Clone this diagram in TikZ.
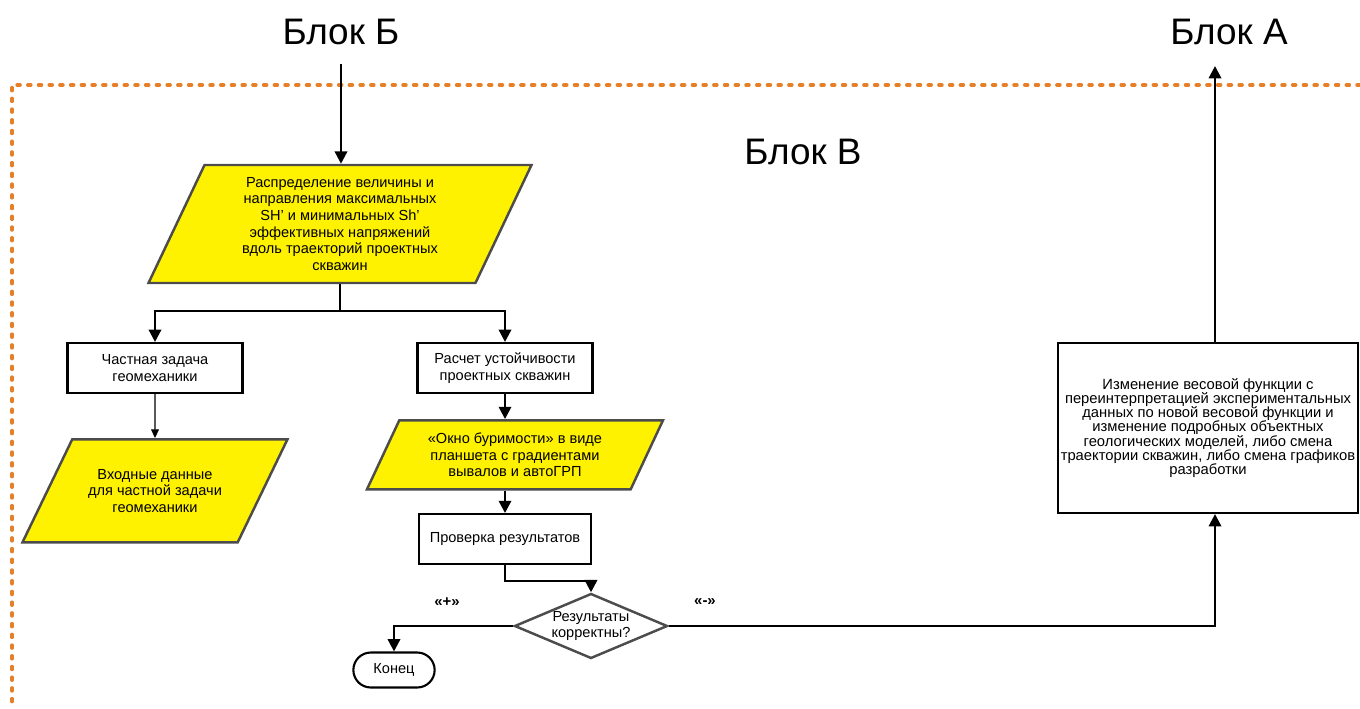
\documentclass[tikz,border=0pt]{standalone}
\usepackage{fontspec}
\setmainfont{Liberation Sans}
\usetikzlibrary{positioning,shapes.geometric,shapes.misc,arrows.meta}
\definecolor{frameorange}{RGB}{230,128,40}
\def\dx{1cm}
\def\dy{0.5cm}
\tikzstyle{process}=[draw,line width=1.2pt,minimum width=3.5cm,minimum height=1cm,align=center,font=\fontsize{8.3}{9.5}\selectfont]
\tikzstyle{data}=[draw=black!70,fill=yellow,trapezium,trapezium stretches body,align=center,font=\fontsize{8.3}{9.5}\selectfont]
\tikzstyle{decision}=[draw=black!70,diamond,aspect=2.35,inner sep=0pt,minimum width=3.06cm,minimum height=1.3cm,align=center,font=\fontsize{8.3}{9.5}\selectfont]
\tikzstyle{terminal}=[draw,line width=1.2pt,rounded rectangle,minimum width=1.86cm,minimum height=0.7cm,font=\fontsize{8.3}{9.5}\selectfont]
\tikzstyle{title}=[font=\fontsize{21}{24}\selectfont]
\tikzstyle{sign}=[font=\bfseries\fontsize{8.5}{9}\selectfont]
\newcommand{\newBlock}[4]{\node[#3](#1)[#4]{#2};}
\newcommand{\newFlow}[3]{\draw[->,#3] (#1) -- (#2);}

\begin{document}
\begin{tikzpicture}[node distance=\dy and \dx,
    >={Triangle[length=7pt,width=7pt]},line width=1.4pt
    ]
    \useasboundingbox (0,0) rectangle (27.2,14.16);
    % frame of block V
    \draw[frameorange,line width=2pt,line cap=round,dash pattern=on 1.7pt off 4.4pt] (27.2,12.46) -| (0.24,0);
    \newBlock{blockB}{Блок Б}{title}{at={(6.82,13.52)}}
    \newBlock{blockA}{Блок А}{title}{at={(24.58,13.52)}}
    \newBlock{blockV}{Блок В}{title}{at={(16.06,11.12)}}
    \newBlock{distr}{Распределение величины и\\направления максимальных\\SH’ и минимальных Sh’\\эффективных напряжений\\вдоль траекторий проектных\\скважин}{data,trapezium left angle=62,trapezium right angle=118,minimum width=7.66cm,minimum height=2.36cm}{at={(6.80,9.68)}}
    \newBlock{geo}{Частная задача\\геомеханики}{process}{at={(3.10,6.80)}}
    \newBlock{input}{Входные данные\\для частной задачи\\геомеханики}{data,trapezium left angle=48,trapezium right angle=132,minimum width=5.3cm,minimum height=2.06cm}{below=0.88cm of geo}
    \newBlock{calc}{Расчет устойчивости\\проектных скважин}{process}{at={(10.10,6.80)}}
    \newBlock{window}{«Окно буримости» в виде\\планшета с градиентами\\вывалов и автоГРП}{data,trapezium left angle=60,trapezium right angle=120,minimum width=5.92cm,minimum height=1.38cm}{below=of calc,xshift=0.2cm}
    \newBlock{check}{Проверка результатов}{process,minimum width=3.44cm}{below=2.38cm of calc}
    \newBlock{decide}{Результаты\\корректны?}{decision}{at={(11.82,1.64)}}
    \newBlock{end}{Конец}{terminal}{at={(7.88,0.76)}}
    \newBlock{change}{Изменение весовой функции с\\переинтерпретацией экспериментальных\\данных по новой весовой функции и\\изменение подробных объектных\\геологических моделей, либо смена\\траектории скважин, либо смена графиков\\разработки}{process,inner xsep=0pt,minimum width=6cm,minimum height=3.4cm,font=\fontsize{8.4}{8}\selectfont}{at={(24.16,5.60)}}
    \node[sign] (plus) at (8.94,2.12) {«+»};
    \node[sign] (minus) at (14.10,2.12) {«-»};
    \draw[->,shorten <=7pt] (blockB) -- (blockB|-distr.north);
    \draw[->] (distr.south) -- ++(0,-0.54) -| (geo.north);
    \draw[->] (distr.south) -- ++(0,-0.54) -| (calc.north);
    \newFlow{geo}{input}{line width=0.6pt,>={Triangle[length=5pt,width=4.5pt]}}
    \newFlow{calc}{calc|-window.north}{}
    \newFlow{calc|-window.south}{check}{}
    \draw[->] (check.south) -- ++(0,-0.32) -| (decide.north);
    \draw[->] (decide.west) -| (end.north);
    \draw[->] (decide.east) -| ([xshift=0.14cm]change.south);
    \draw[->,shorten >=8pt] ([xshift=0.14cm]change.north) -- ([xshift=0.14cm]change.north |- blockA.south);
\end{tikzpicture}
\end{document}
